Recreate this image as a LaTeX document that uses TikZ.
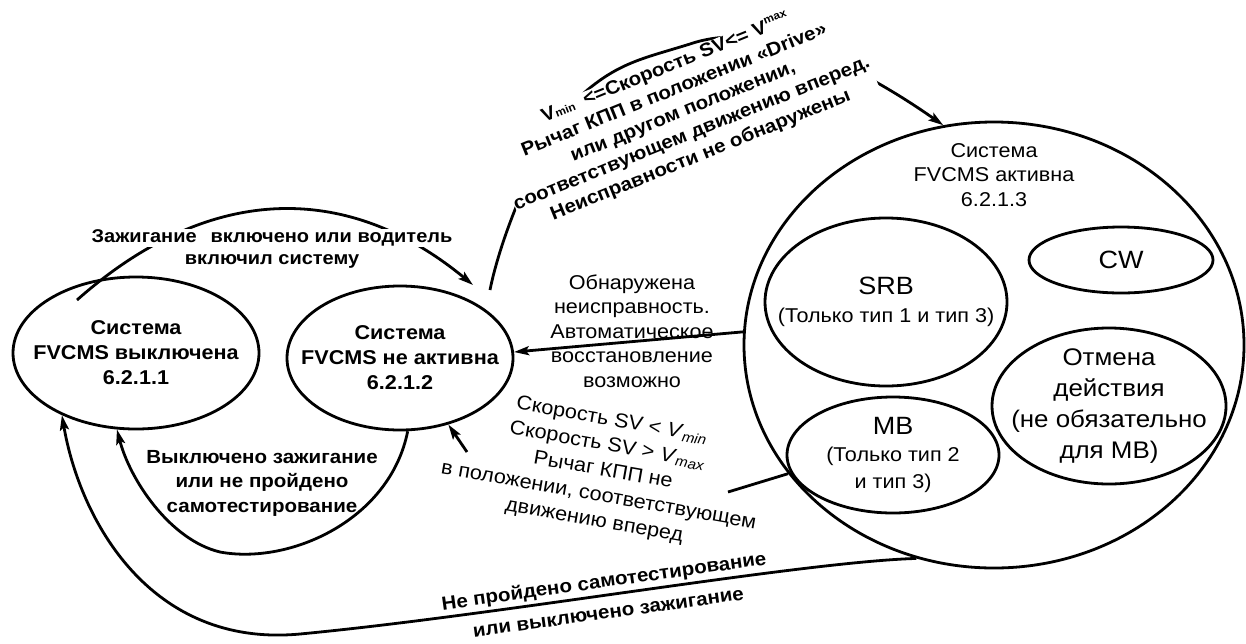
\documentclass[tikz,border=0pt]{standalone}
\usepackage{fontspec}
\setmainfont{Liberation Sans}[FakeStretch=1.08]
\usetikzlibrary{shapes.geometric,arrows.meta}
\pgfdeclarelayer{connlayer}
\pgfdeclarelayer{lablayer}
\pgfsetlayers{connlayer,lablayer,main}
\begin{document}
\begin{tikzpicture}[x=1pt,y=-1pt,line width=2.8pt,
  state/.style={draw,ellipse,inner sep=0pt,line width=2.8pt},
  stxt/.style={align=center,inner sep=0pt},
  arrowline/.style={line width=2.8pt,-{Stealth[length=15pt,width=9pt,inset=3pt]}},
  txt/.style={align=center,inner sep=0pt,font=\fontsize{20}{24.5}\selectfont},
  btxt/.style={align=center,inner sep=0pt,font=\bfseries\fontsize{19}{24.5}\selectfont},
  whitebg/.style={fill=white}]
\useasboundingbox (0,0) rectangle (1246,643);
% states
\node[state,minimum width=246pt,minimum height=152pt,
  label={[stxt,font=\bfseries\fontsize{20}{25}\selectfont]center:{Система\\FVCMS выключена\\6.2.1.1}}] (off) at (136,353) {};
\node[state,minimum width=226pt,minimum height=144pt,
  label={[stxt,font=\bfseries\fontsize{20}{25}\selectfont]center:{Система\\FVCMS не активна\\6.2.1.2}}] (inact) at (400,358) {};
\node[state,minimum width=500pt,minimum height=446pt] (act) at (994,345) {};
\node[txt] (actt) at (994,175) {Система\\FVCMS активна\\6.2.1.3};
\node[state,minimum width=242pt,minimum height=168pt,
  label={[stxt,font=\fontsize{20}{28}\selectfont]center:{{\fontsize{25}{28}\selectfont SRB}\\(Только тип 1 и тип 3)}}] (srb) at (886,302) {};
\node[state,minimum width=184pt,minimum height=66pt,
  label={[stxt,font=\fontsize{25}{28}\selectfont]center:CW}] (cw) at (1121,260) {};
\node[state,minimum width=234pt,minimum height=156pt,
  label={[stxt,font=\fontsize{24}{31}\selectfont]center:{Отмена\\действия\\(не обязательно\\для MB)}}] (canc) at (1109,406) {};
\node[state,minimum width=212pt,minimum height=116pt,
  label={[stxt,font=\fontsize{20}{27}\selectfont]center:{{\fontsize{25}{27}\selectfont MB}\\(Только тип 2\\и тип 3)}}] (mb) at (893,455) {};
% free ends
\coordinate (c1s) at (77,300);
\coordinate (c1e) at (473,285);
\coordinate (c2s) at (490,290);
\coordinate (c4a) at (728,492);
\coordinate (c4b) at (467,452);
\begin{pgfonlayer}{connlayer}
\draw[arrowline] (c1s) .. controls (209,183) and (347,181) .. (c1e);
\draw[arrowline] (c2s) .. controls (502,230) and (545,127) .. (585,92) .. controls (620,62) and (645,58) .. (690,44) .. controls (760,20) and (850,60) .. (act.103);
\draw[arrowline] (act.177) -- (inact.3);
\draw[arrowline] (act.212) -- (c4a) (c4b) -- (inact.306);
\draw[arrowline] (inact.276) .. controls (390,520) and (290,565) .. (220,552) .. controls (170,540) and (130,480) .. (off.256);
\draw[arrowline] (act.250) .. controls (800,562) and (500,615) .. (300,634) .. controls (150,648) and (80,520) .. (off.220);
\end{pgfonlayer}
\begin{pgfonlayer}{lablayer}
\node[btxt,whitebg,inner sep=1pt,font=\bfseries\fontsize{18.5}{22.5}\selectfont] (lon) at (272,238) {Зажигание\hspace{14pt}включено или водитель};
\node[btxt,font=\bfseries\fontsize{18.5}{22.5}\selectfont] (lon2) at (272,261) {включил систему};
\node[btxt,whitebg,rotate=22,font=\bfseries\fontsize{19}{23.5}\selectfont] (lact) at (683,112) {V{\fontsize{11}{11}\selectfont min}\hspace{10pt}<=Скорость SV<= V\raisebox{8pt}{\fontsize{11}{11}\selectfont max}\\Рычаг КПП в положении «Drive»\\или другом положении,\\соответствующем движению вперед.\\Неисправности не обнаружены};
\end{pgfonlayer}
\node[txt,font=\fontsize{20}{24.5}\selectfont] (lfault) at (632,331) {Обнаружена\\неисправность.\\Автоматическое\\восстановление\\возможно};
\node[txt,rotate=-10,font=\fontsize{20}{25.5}\selectfont] (lstop) at (603,471) {Скорость SV < \textit{V}\textsubscript{\textit{min}}\\Скорость SV > \textit{V}\textsubscript{\textit{max}}\\Рычаг КПП не\\в положении, соответствующем\\движению вперед};
\node[btxt] (loff) at (262,483) {Выключено зажигание\\или не пройдено\\самотестирование};
\node[btxt,rotate=8,font=\bfseries\fontsize{19}{31.5}\selectfont] (lself) at (606,596) {Не пройдено самотестирование\\или выключено зажигание};
\end{tikzpicture}
\end{document}
